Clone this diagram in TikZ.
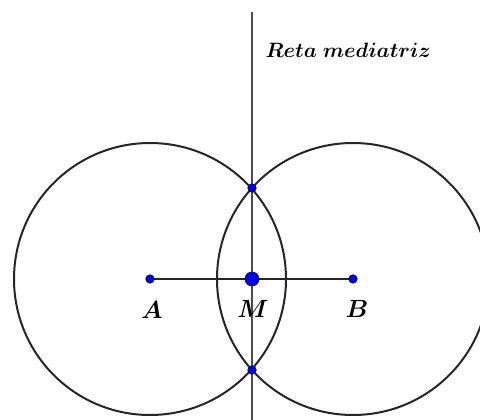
\documentclass[tikz,border=0pt]{standalone}
\usepackage{bm}
\begin{document}
\begin{tikzpicture}[x=1pt,y=-1pt,
  circ/.style={line width=2pt,draw=black!85},
  vline/.style={line width=1.4pt,draw=black!70},
  seg/.style={line width=2pt,draw=black!85},
  pt/.style={circle,fill=blue!90!black,draw=blue!30!black,line width=0.6pt,inner sep=0pt,minimum size=8.5pt},
  bigpt/.style={circle,fill=blue!90!black,draw=blue!30!black,line width=0.6pt,inner sep=0pt,minimum size=14pt},
  lab/.style={font=\fontsize{23}{27}\selectfont},
  ttl/.style={font=\fontsize{19.5}{23}\selectfont}]
\useasboundingbox (0,0) rectangle (480,420);
\clip (0,0) rectangle (480,420);
\coordinate (cA) at (150,279);
\coordinate (cB) at (353,279);
\coordinate (top) at (252,12);
\coordinate (bot) at (252,425);
\draw[circ] (cA) circle[radius=136];
\draw[circ] (cB) circle[radius=136];
\draw[vline] (top) -- (bot);
\draw[seg] (cA) -- (cB);
\node[pt] (A) at (cA) {};
\node[pt] (B) at (cB) {};
\node[bigpt] (M) at (252,279) {};
\node[pt] (P) at (252,188) {};
\node[pt] (Q) at (252,370) {};
\node[lab] (lA) at (152,310) {$\bm{A}$};
\node[lab] (lM) at (253,309) {$\bm{M}$};
\node[lab] (lB) at (357,309) {$\bm{B}$};
\node[ttl,anchor=west] (t) at (262,50) {$\bm{Reta\ mediatriz}$};
\end{tikzpicture}
\end{document}
